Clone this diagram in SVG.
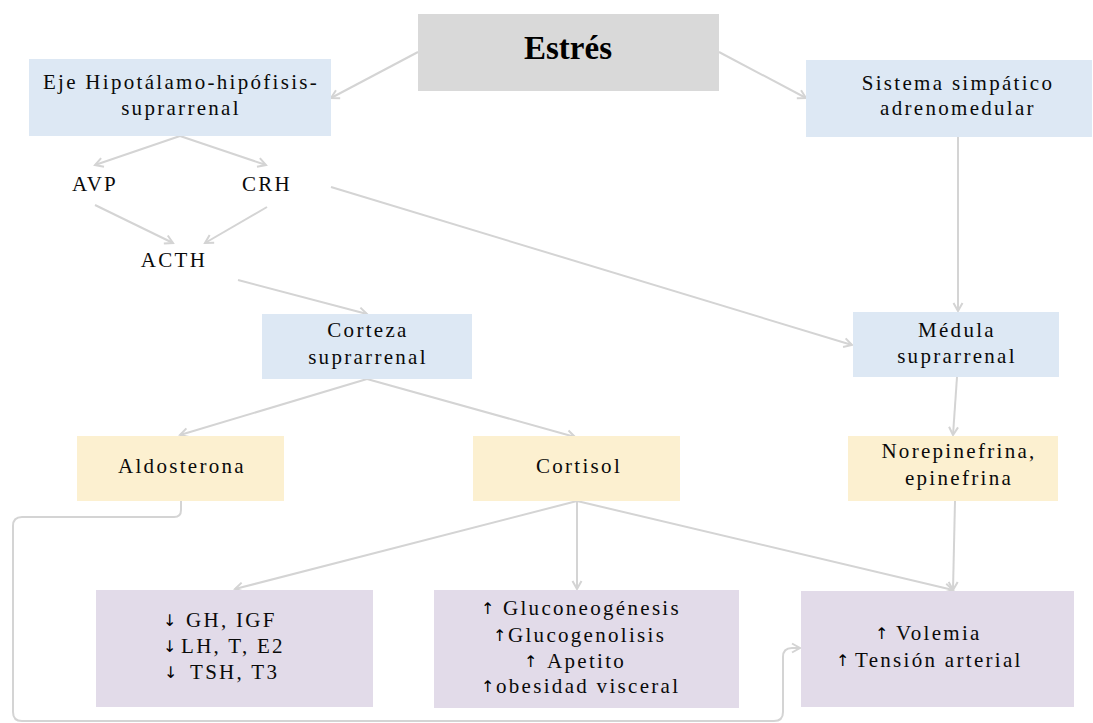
<svg xmlns="http://www.w3.org/2000/svg" width="1093" height="723" viewBox="0 0 1093 723">
<style>
.lbl{font-family:"Liberation Serif","Times New Roman",serif;font-size:21px;letter-spacing:2.3px;fill:#0a0a0a;text-anchor:middle}
.ls{font-family:"Liberation Serif","Times New Roman",serif;font-size:21px;letter-spacing:2.3px;fill:#0a0a0a}
.arr{font-family:"DejaVu Sans",sans-serif;font-size:16px;fill:#000}
.ttl{font-family:"Liberation Serif","Times New Roman",serif;font-size:33px;font-weight:bold;fill:#000;text-anchor:middle}
.blue{fill:#dde8f4}
.yel{fill:#fcf0d0}
.pur{fill:#e2dbe9}
.con{fill:none;stroke:#d4d4d4;stroke-width:2}
</style>
<defs>
<marker id="ah" markerUnits="userSpaceOnUse" markerWidth="12" markerHeight="12" refX="10" refY="6" orient="auto">
<path d="M2,1.5 L10,6 L2,10.5" fill="none" stroke="#d4d4d4" stroke-width="2"/>
</marker>
</defs>
<rect width="1093" height="723" fill="#fff"/>
<g id="connectors">
<line class="con" x1="418" y1="52" x2="331" y2="98" marker-end="url(#ah)"/>
<line class="con" x1="719" y1="52" x2="806" y2="98" marker-end="url(#ah)"/>
<line class="con" x1="180" y1="136" x2="95" y2="165" marker-end="url(#ah)"/>
<line class="con" x1="180" y1="136" x2="266" y2="165" marker-end="url(#ah)"/>
<line class="con" x1="95" y1="205" x2="173" y2="243" marker-end="url(#ah)"/>
<line class="con" x1="267" y1="207" x2="205" y2="243" marker-end="url(#ah)"/>
<line class="con" x1="238" y1="280" x2="367" y2="314" marker-end="url(#ah)"/>
<line class="con" x1="331" y1="187" x2="852" y2="345" marker-end="url(#ah)"/>
<line class="con" x1="958" y1="137" x2="958" y2="311" marker-end="url(#ah)"/>
<line class="con" x1="367" y1="379" x2="180" y2="435" marker-end="url(#ah)"/>
<line class="con" x1="367" y1="379" x2="575" y2="437" marker-end="url(#ah)"/>
<line class="con" x1="957" y1="377" x2="953" y2="435" marker-end="url(#ah)"/>
<line class="con" x1="955" y1="501" x2="953" y2="590" marker-end="url(#ah)"/>
<line class="con" x1="577" y1="501" x2="235" y2="589" marker-end="url(#ah)"/>
<line class="con" x1="577" y1="501" x2="577" y2="589" marker-end="url(#ah)"/>
<line class="con" x1="577" y1="501" x2="953" y2="590" marker-end="url(#ah)"/>
<path class="con" d="M181,501 V510 Q181,517 174,517 H22 Q13,517 13,526 V712 Q13,721 22,721 H774 Q783,721 783,712 V657 Q783,648 792,648 H800" marker-end="url(#ah)"/>
</g>
<g id="estres">
<rect x="418" y="14" width="301" height="77" fill="#d9d9d9"/>
<text class="ttl" x="568" y="59">Estrés</text>
</g>
<g id="eje">
<rect class="blue" x="29" y="59" width="302" height="77"/>
<text class="lbl" x="181" y="89">Eje Hipotálamo-hipófisis-</text>
<text class="lbl" x="181" y="115">suprarrenal</text>
</g>
<g id="sistema">
<rect class="blue" x="806" y="60" width="286" height="77"/>
<text class="lbl" x="958" y="90">Sistema simpático</text>
<text class="lbl" x="958" y="115">adrenomedular</text>
</g>
<g id="avp"><text class="lbl" x="95" y="191">AVP</text></g>
<g id="crh"><text class="lbl" x="267" y="191">CRH</text></g>
<g id="acth"><text class="lbl" x="174" y="267">ACTH</text></g>
<g id="corteza">
<rect class="blue" x="262" y="314" width="210" height="65"/>
<text class="lbl" x="368" y="337">Corteza</text>
<text class="lbl" x="368" y="364">suprarrenal</text>
</g>
<g id="medula">
<rect class="blue" x="853" y="312" width="206" height="65"/>
<text class="lbl" x="957" y="337">Médula</text>
<text class="lbl" x="957" y="363">suprarrenal</text>
</g>
<g id="aldosterona">
<rect class="yel" x="77" y="436" width="207" height="65"/>
<text class="lbl" x="182" y="473">Aldosterona</text>
</g>
<g id="cortisol">
<rect class="yel" x="473" y="436" width="207" height="65"/>
<text class="lbl" x="579" y="473">Cortisol</text>
</g>
<g id="norepinefrina">
<rect class="yel" x="848" y="436" width="210" height="65"/>
<text class="lbl" x="959" y="458">Norepinefrina,</text>
<text class="lbl" x="959" y="485">epinefrina</text>
</g>
<g id="hormonas">
<rect class="pur" x="96" y="590" width="277" height="117"/>
<text class="arr" x="163" y="626">↓</text><text class="ls" x="186" y="627">GH, IGF</text>
<text class="arr" x="163" y="652">↓</text><text class="ls" x="181" y="653">LH, T, E2</text>
<text class="arr" x="164" y="678">↓</text><text class="ls" x="190" y="679">TSH, T3</text>
</g>
<g id="metabolismo">
<rect class="pur" x="434" y="590" width="305" height="118"/>
<text class="arr" x="481" y="614">↑</text><text class="ls" x="503" y="615">Gluconeogénesis</text>
<text class="arr" x="493" y="641">↑</text><text class="ls" x="508" y="642">Glucogenolisis</text>
<text class="arr" x="524" y="667">↑</text><text class="ls" x="547" y="668">Apetito</text>
<text class="arr" x="481" y="692">↑</text><text class="ls" x="496" y="693">obesidad visceral</text>
</g>
<g id="volemia">
<rect class="pur" x="801" y="591" width="273" height="116"/>
<text class="arr" x="875" y="639">↑</text><text class="ls" x="896" y="640">Volemia</text>
<text class="arr" x="836" y="666">↑</text><text class="ls" x="855" y="667">Tensión arterial</text>
</g>
</svg>
